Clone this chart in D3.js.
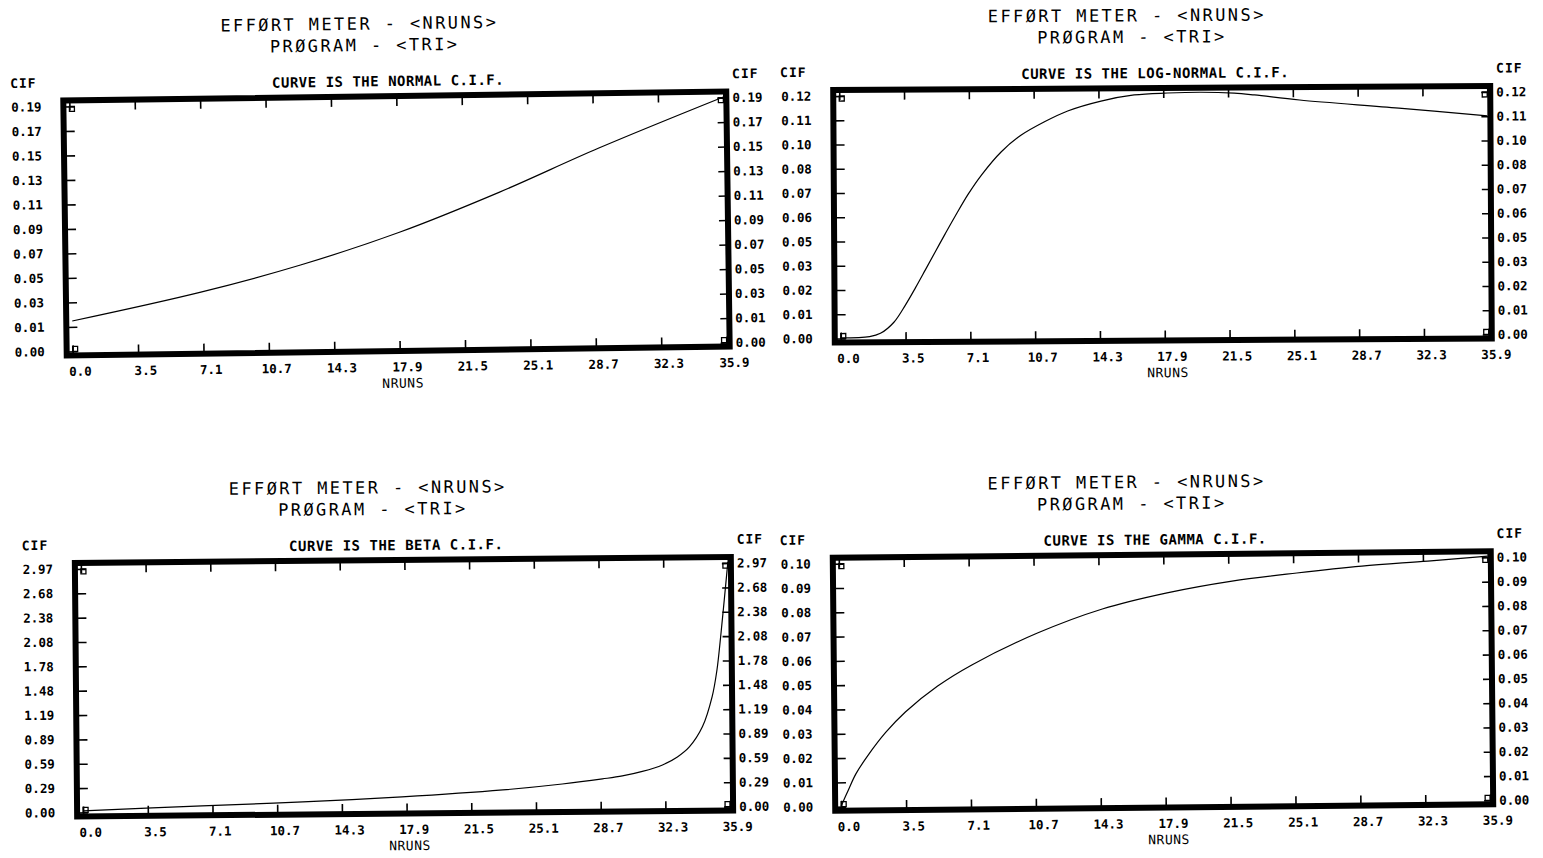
<!DOCTYPE html>
<html>
<head>
<meta charset="utf-8">
<script src="https://cdn.jsdelivr.net/npm/d3@7/dist/d3.min.js"></script>
<style>
    body { margin: 0; background: #fff; }
    svg text { font-family: "DejaVu Sans Mono", monospace; fill: #000; }
</style>
</head>
<body>
<svg id="svg" width="1543" height="858"></svg>
<script>

// NRUNS axis, the same for the four plots
var xTop = 35.9
var xTickLabels = ['0.0', '3.5', '7.1', '10.7', '14.3', '17.9', '21.5', '25.1', '28.7', '32.3', '35.9']

// CIF axis labels (printed values are truncated from top * i / 10)
var normalTop = 0.195
var normalTicks = ['0.00', '0.01', '0.03', '0.05', '0.07', '0.09', '0.11', '0.13', '0.15', '0.17', '0.19']
var logNormalTop = 0.1275
var logNormalTicks = ['0.00', '0.01', '0.02', '0.03', '0.05', '0.06', '0.07', '0.08', '0.10', '0.11', '0.12']
var betaTop = 2.975
var betaTicks = ['0.00', '0.29', '0.59', '0.89', '1.19', '1.48', '1.78', '2.08', '2.38', '2.68', '2.97']
var gammaTop = 0.1005
var gammaTicks = ['0.00', '0.01', '0.02', '0.03', '0.04', '0.05', '0.06', '0.07', '0.08', '0.09', '0.10']

// curves
var nrunsNormal = [0, 7.08, 12.57, 18.06, 23.55, 29.03, 35.9]
var cifNormal = [0.0242, 0.0458, 0.0663, 0.0915, 0.1222, 0.1562, 0.1955]

var nrunsLogNormal = [0, 1.6, 2.2, 2.95, 3.6, 4.16, 4.71, 5.26, 5.82, 6.37, 7.11, 7.85, 8.96,
    10.07, 11.36, 12.65, 14.5, 16.34, 18.19, 20.04, 21.88, 23.0, 25.5, 31.0, 35.9]
var cifLogNormal = [0.0003, 0.0009, 0.0026, 0.0084, 0.0175, 0.0265, 0.0358, 0.0452, 0.0547,
    0.0638, 0.0755, 0.0855, 0.0977, 0.1064, 0.1133, 0.1189, 0.1240, 0.1271, 0.1280, 0.1283,
    0.1277, 0.1267, 0.1239, 0.1193, 0.1149]

var nrunsBeta = [0, 6.6, 12.2, 17.7, 23.3, 26.6, 28.83, 29.94, 31.05, 32.17, 33.0, 33.67,
    34.41, 34.96, 35.24, 35.46, 35.68, 35.9]
var cifBeta = [0.02, 0.066, 0.104, 0.154, 0.228, 0.294, 0.352, 0.386, 0.439, 0.516, 0.612, 0.733,
    0.98, 1.345, 1.67, 2.073, 2.524, 2.99]

var nrunsGamma = [0, 0.4, 0.83, 1.5, 2.5, 3.6, 5.4, 7.3, 10.95, 14.55, 18.14, 21.74, 25.33, 28.93, 32.58, 35.9]
var cifGamma = [0.0003, 0.0068, 0.0135, 0.021, 0.0305, 0.0389, 0.0495, 0.0581, 0.071, 0.0807,
    0.0871, 0.0917, 0.0948, 0.0974, 0.0992, 0.101]

// box = [left, right, top, bottom] of the data area, rot = skew of the scan
var panels = [
    { name: 'NORMAL', x: nrunsNormal, y: cifNormal, top: normalTop, ticks: normalTicks,
      box: [71, 725, 102, 347], rot: -0.77 },
    { name: 'LOG-NORMAL', x: nrunsLogNormal, y: cifLogNormal, top: logNormalTop, ticks: logNormalTicks,
      box: [840, 1488, 94, 336.5], rot: -0.36 },
    { name: 'BETA', x: nrunsBeta, y: cifBeta, top: betaTop, ticks: betaTicks,
      box: [82, 729, 566, 809.5], rot: -0.52 },
    { name: 'GAMMA', x: nrunsGamma, y: cifGamma, top: gammaTop, ticks: gammaTicks,
      box: [840, 1489, 560.5, 803.5], rot: -0.56 }
]

var svg = d3.select('#svg')
var steps = d3.range(11)

panels.forEach(function(p) {

    var b = p.box
    var cx = (b[0] + b[1]) / 2,
        cy = (b[2] + b[3]) / 2

    var x = d3.scaleLinear().domain([0, xTop]).range([b[0], b[1]])
    var y = d3.scaleLinear().domain([0, p.top]).range([b[3], b[2]])

    var xVals = steps.map(function(i) { return xTop * i / 10 })
    var yVals = steps.map(function(i) { return p.top * i / 10 })

    var g = svg.append('g')
        .attr('transform', 'rotate(' + p.rot + ',' + cx + ',' + cy + ')')

    // titles
    g.append('text').attr('x', cx - 36).attr('y', b[2] - 79 + 6.2)
        .attr('text-anchor', 'middle').style('font-size', '17px').style('letter-spacing', '2.4px')
        .text('EFFØRT METER - <NRUNS>')
    g.append('text').attr('x', cx - 31).attr('y', b[2] - 57.5 + 6.2)
        .attr('text-anchor', 'middle').style('font-size', '17px').style('letter-spacing', '2.4px')
        .text('PRØGRAM - <TRI>')
    g.append('text').attr('x', cx - 8).attr('y', b[2] - 21 + 5)
        .attr('text-anchor', 'middle').style('font-size', '14px').style('letter-spacing', '0.5px')
        .style('font-weight', 'bold')
        .text('CURVE IS THE ' + p.name + ' C.I.F.')

    // CIF captions over both vertical axes
    g.append('text').attr('x', b[0] - 59).attr('y', b[2] - 24 + 4.7)
        .style('font-size', '13px').style('letter-spacing', '1px').style('font-weight', 'bold')
        .text('CIF')
    g.append('text').attr('x', b[1] + 9).attr('y', b[2] - 24 + 4.7)
        .style('font-size', '13px').style('letter-spacing', '1px').style('font-weight', 'bold')
        .text('CIF')

    g.append('text').attr('x', cx + 3).attr('y', b[3] + 36 + 4.7)
        .attr('text-anchor', 'middle').style('font-size', '13px').style('letter-spacing', '0.5px')
        .text('NRUNS')

    // curve
    var line = d3.line()
        .x(function(d) { return x(d[0]) })
        .y(function(d) { return y(d[1]) })
        .curve(d3.curveCatmullRom.alpha(0.5))

    g.append('path')
        .datum(p.x.map(function(v, i) { return [v, p.y[i]] }))
        .attr('d', line)
        .attr('fill', 'none')
        .attr('stroke', '#000')
        .attr('stroke-width', 1.2)

    // heavy frame
    g.append('rect')
        .attr('x', b[0] - 6).attr('y', b[2] - 6)
        .attr('width', b[1] - b[0] + 9).attr('height', b[3] - b[2] + 10)
        .attr('fill', 'none').attr('stroke', '#000').attr('stroke-width', 6)

    // corner boxes
    ;[[b[0], b[2]], [b[1] - 5, b[2]], [b[0], b[3] - 5], [b[1] - 5, b[3] - 5]].forEach(function(c) {
        g.append('rect').attr('x', c[0]).attr('y', c[1]).attr('width', 5).attr('height', 5)
            .attr('fill', 'none').attr('stroke', '#000').attr('stroke-width', 1.3)
    })

    // axes with inward ticks
    var bottom = g.append('g').attr('transform', 'translate(0,' + (b[3] + 4) + ')')
        .call(d3.axisBottom(x).tickValues(xVals).tickSize(-10).tickPadding(11.6)
            .tickFormat(function(d, i) { return xTickLabels[i] }))
    bottom.selectAll('text').attr('dx', 7)

    g.append('g').attr('transform', 'translate(0,' + (b[2] - 6) + ')')
        .call(d3.axisTop(x).tickValues(xVals).tickSize(-10).tickFormat(''))

    g.append('g').attr('transform', 'translate(' + (b[0] - 6) + ',0)')
        .call(d3.axisLeft(y).tickValues(yVals).tickSize(-11).tickPadding(22)
            .tickFormat(function(d, i) { return p.ticks[i] }))

    g.append('g').attr('transform', 'translate(' + (b[1] + 3) + ',0)')
        .call(d3.axisRight(y).tickValues(yVals).tickSize(-9).tickPadding(6)
            .tickFormat(function(d, i) { return p.ticks[i] }))

    g.selectAll('.domain').remove()
    g.selectAll('.tick line').attr('stroke', '#000').attr('stroke-width', 1.6)
    g.selectAll('.tick text')
        .style('font-family', '"DejaVu Sans Mono", monospace')
        .style('font-size', '12.5px')
        .style('font-weight', 'bold')
})

</script>
</body>
</html>
